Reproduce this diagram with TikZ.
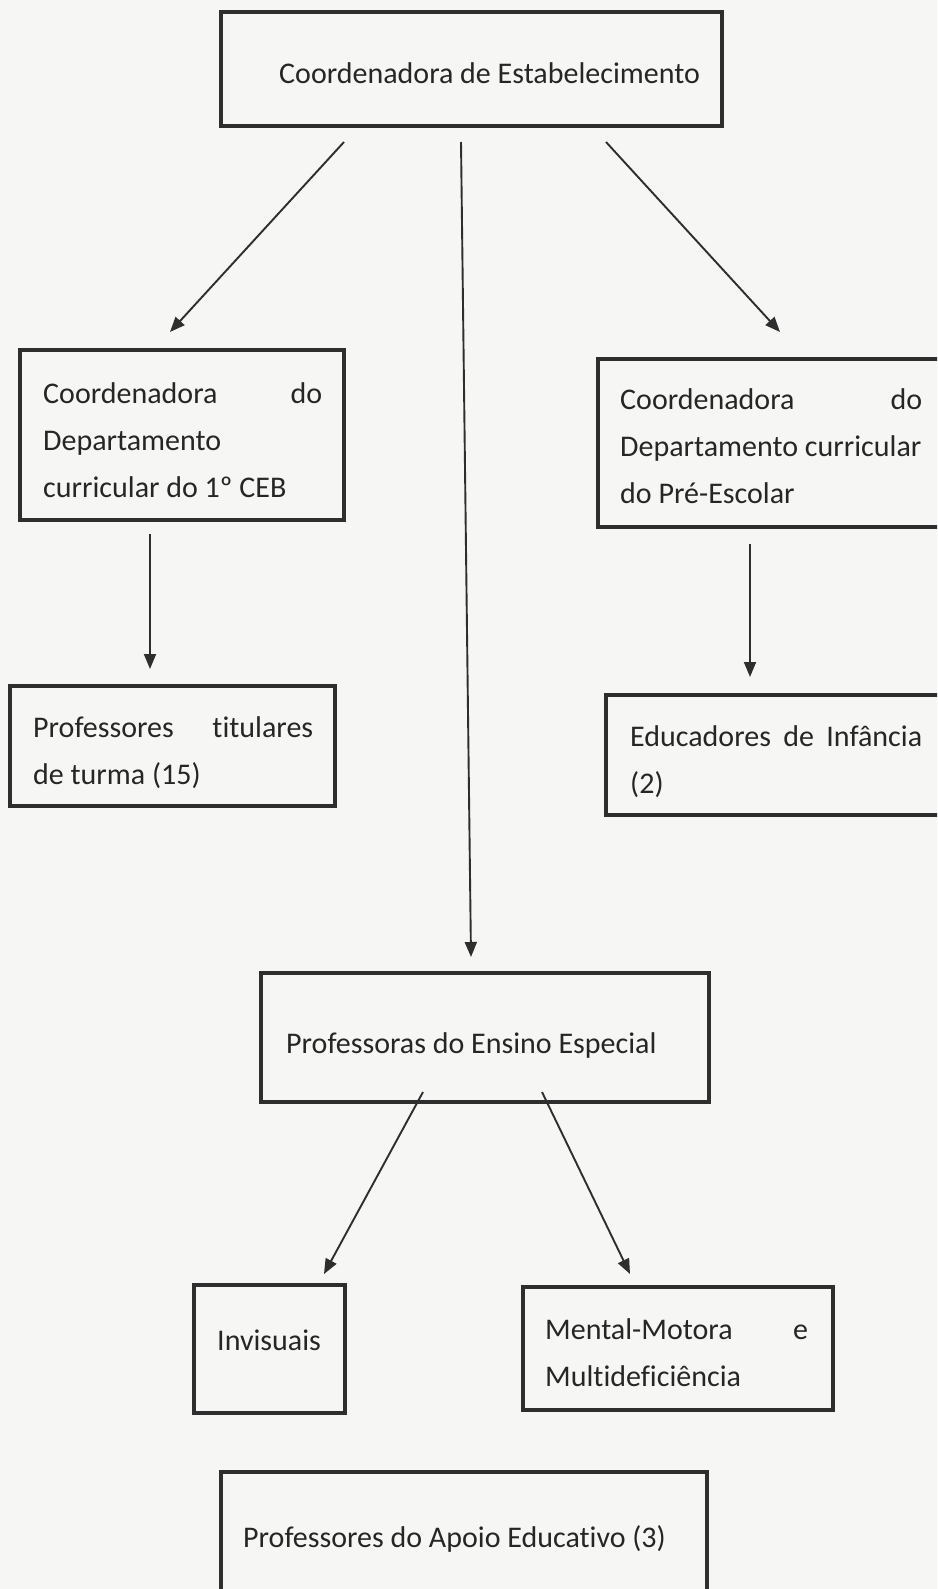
\documentclass[tikz,border=0pt]{standalone}
\usepackage{fontspec}
\setmainfont[Ligatures={NoCommon}]{Carlito}
\usetikzlibrary{arrows.meta}
\definecolor{bg}{HTML}{F6F7F4}
\definecolor{ink}{HTML}{262626}
\definecolor{edge}{HTML}{2E2E2E}
\begin{document}
\begin{tikzpicture}[x=1pt,y=-1pt,
 box/.style={draw=edge, line width=3.5pt, inner sep=0pt, outer sep=0pt, anchor=north west},
 txt/.style={anchor=base west, inner sep=0pt, text=ink, font=\fontsize{30}{47}\selectfont},
 arr/.style={draw=edge, line width=1.9pt, -{Triangle[length=15pt,width=12pt]}}]
\useasboundingbox (0,0) rectangle (937,1589);
\clip (0,0) rectangle (937,1589);
\fill[bg] (0,0) rectangle (937,1589);

% boxes
\node[box, minimum width=501pt, minimum height=114pt] (top) at (221,12) {};
\node[box, minimum width=324pt, minimum height=170pt] (ceb) at (20,350) {};
\node[box, minimum width=325pt, minimum height=120pt] (tit) at (10,686) {};
\node[box, minimum width=360pt, minimum height=168pt] (pre) at (598,359) {};
\node[box, minimum width=360pt, minimum height=120pt] (edu) at (606,695) {};
\node[box, minimum width=448pt, minimum height=129pt] (esp) at (261,973) {};
\node[box, minimum width=151pt, minimum height=128pt] (inv) at (194,1285) {};
\node[box, minimum width=310pt, minimum height=123pt] (men) at (523,1287) {};
\node[box, minimum width=486pt, minimum height=150pt] (apo) at (221,1472) {};

% texts
\node[txt] (topT) at (279,84) {Coordenadora de Estabelecimento};
\node[txt] (cebT) at (43,403) {\begin{tabular}[t]{@{}l@{}}\hbox to 279pt{Coordenadora\hfill do}\\Departamento\\curricular do 1º CEB\end{tabular}};
\node[txt] (titT) at (33,737) {\begin{tabular}[t]{@{}l@{}}\hbox to 280pt{Professores\hfill titulares}\\de turma (15)\end{tabular}};
\node[txt] (preT) at (620,409) {\begin{tabular}[t]{@{}l@{}}\hbox to 302pt{Coordenadora\hfill do}\\Departamento curricular\\do Pré-Escolar\end{tabular}};
\node[txt] (eduT) at (630,746) {\begin{tabular}[t]{@{}l@{}}\hbox to 292pt{Educadores\hfill de\hfill Infância}\\(2)\end{tabular}};
\node[txt] (espT) at (286,1053) {Professoras do Ensino Especial};
\node[txt] (invT) at (217,1350) {Invisuais};
\node[txt] (menT) at (545,1339) {\begin{tabular}[t]{@{}l@{}}\hbox to 263pt{Mental-Motora\hfill e}\\Multideficiência\end{tabular}};
\node[txt] (apoT) at (243,1547) {Professores do Apoio Educativo (3)};

% connector end points
\coordinate (a1s) at (344,142); \coordinate (a1e) at (170,332);
\coordinate (a2s) at (461,142); \coordinate (a2e) at (471,957);
\coordinate (a3s) at (606,142); \coordinate (a3e) at (780,332);
\coordinate (a4s) at (150,534); \coordinate (a4e) at (150,669);
\coordinate (a5s) at (750,544); \coordinate (a5e) at (750,677);
\coordinate (a6s) at (423,1092); \coordinate (a6e) at (324,1274);
\coordinate (a7s) at (542,1092); \coordinate (a7e) at (630,1274);

\draw[arr] (a1s) -- (a1e);
\draw[arr] (a2s) -- (a2e);
\draw[arr] (a3s) -- (a3e);
\draw[arr] (a4s) -- (a4e);
\draw[arr] (a5s) -- (a5e);
\draw[arr] (a6s) -- (a6e);
\draw[arr] (a7s) -- (a7e);
\end{tikzpicture}
\end{document}
